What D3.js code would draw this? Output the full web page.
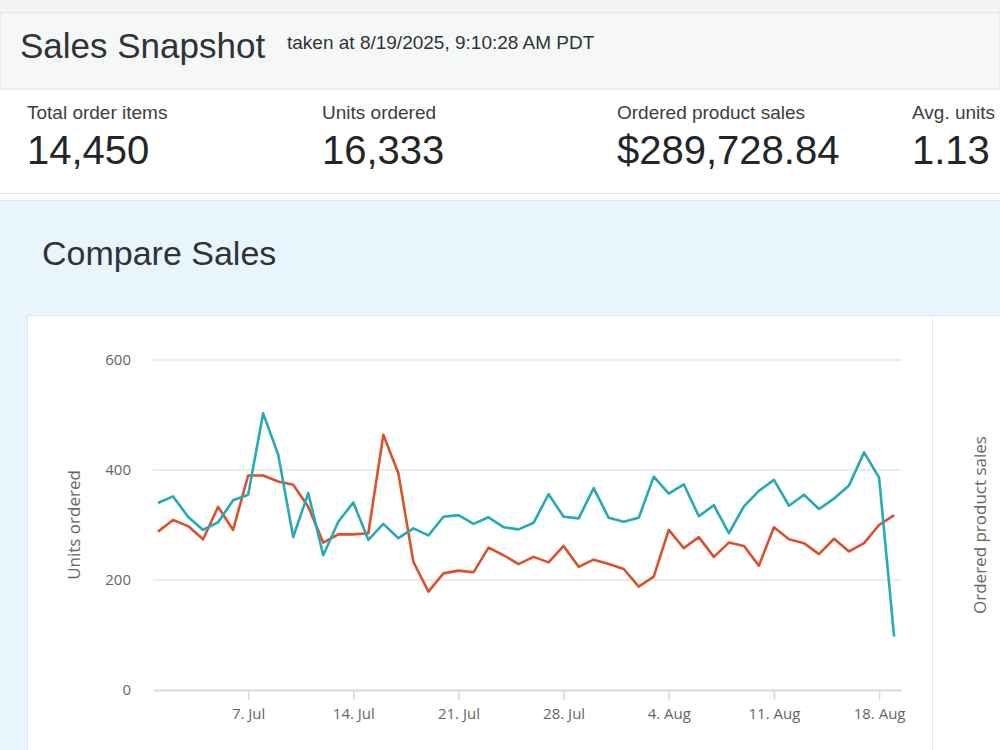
<!DOCTYPE html>
<html>
<head>
<meta charset="utf-8">
<script src="https://cdn.jsdelivr.net/npm/d3@7"></script>
<style>
  body { margin: 0; background: #fff; }
  svg { display: block; }
</style>
</head>
<body>
<script>
// KPI tiles
var kpiLabels = ["Total order items", "Units ordered", "Ordered product sales", "Avg. units"];
var kpiValues = ["14,450", "16,333", "$289,728.84", "1.13"];

// daily series, 1 Jul - 19 Aug 2025
var startDay = new Date(2025, 6, 1);
var endDay   = new Date(2025, 7, 19);
var selectedRange = [340, 352, 315, 291, 305, 345, 355, 503, 428, 278,
                     358, 245, 306, 341, 273, 302, 276, 294, 281, 315,
                     318, 302, 314, 296, 292, 304, 356, 315, 312, 367,
                     313, 306, 313, 388, 357, 374, 316, 336, 285, 334,
                     362, 382, 335, 355, 329, 348, 372, 432, 386, 97];
var lastYear      = [288, 309, 298, 274, 333, 291, 390, 390, 379, 373,
                     333, 268, 283, 283, 285, 464, 394, 233, 179, 212,
                     217, 214, 259, 245, 229, 242, 232, 262, 224, 237,
                     229, 220, 188, 206, 291, 258, 278, 242, 268, 262,
                     226, 296, 274, 267, 247, 275, 252, 267, 300, 318];
var yTicks = [0, 200, 400, 600];
var xTicks = [new Date(2025, 6, 7), new Date(2025, 6, 14), new Date(2025, 6, 21),
              new Date(2025, 6, 28), new Date(2025, 7, 4), new Date(2025, 7, 11),
              new Date(2025, 7, 18)];

var days = d3.timeDay.range(startDay, d3.timeDay.offset(endDay, 1));

const W = 1000, H = 750;
const svg = d3.select("body").append("svg")
  .attr("width", W).attr("height", H);

const sans = "'Liberation Sans', Arial, Helvetica, sans-serif";
const chartFont = "'Open Sans', 'Noto Sans', sans-serif";

// page bands
svg.append("rect").attr("x", 0).attr("y", 0).attr("width", W).attr("height", 10).attr("fill", "#f1f2f2");
svg.append("rect").attr("x", 0).attr("y", 12).attr("width", W).attr("height", 77)
  .attr("fill", "#f6f7f7").attr("stroke", "#dcdfe0");
svg.append("rect").attr("x", 0).attr("y", 90).attr("width", W).attr("height", 103).attr("fill", "#fff");
svg.append("line").attr("x1", 0).attr("x2", W).attr("y1", 193.5).attr("y2", 193.5).attr("stroke", "#e1e3e4");
svg.append("rect").attr("x", 0).attr("y", 200).attr("width", W).attr("height", H - 200).attr("fill", "#e9f5fd");
svg.append("line").attr("x1", 0).attr("x2", W).attr("y1", 200.5).attr("y2", 200.5).attr("stroke", "#dde3e8");

svg.append("text").attr("x", 20).attr("y", 58)
  .style("font-family", sans).style("font-size", "35px").attr("fill", "#2f3337")
  .text("Sales Snapshot");
svg.append("text").attr("x", 287).attr("y", 49)
  .style("font-family", sans).style("font-size", "19px").attr("fill", "#2f3337")
  .text("taken at 8/19/2025, 9:10:28 AM PDT");

// KPI tiles
var kpiX = d3.scalePoint().domain(d3.range(kpiLabels.length)).range([27, 912]);
var kpi = svg.selectAll(".kpi").data(kpiLabels).enter().append("g")
  .attr("class", "kpi")
  .attr("transform", function(d, i) { return "translate(" + kpiX(i) + ",0)"; });
kpi.append("text").attr("y", 119)
  .style("font-family", sans).style("font-size", "19px").attr("fill", "#3a3e42")
  .text(function(d) { return d; });
kpi.append("text").attr("y", 164)
  .style("font-family", sans).style("font-size", "40px").attr("fill", "#232629")
  .text(function(d, i) { return kpiValues[i]; });

svg.append("text").attr("x", 42).attr("y", 265)
  .style("font-family", sans).style("font-size", "34px").attr("fill", "#2f3337")
  .text("Compare Sales");

// chart panel
svg.append("rect").attr("x", 27.5).attr("y", 315.5).attr("width", 980).attr("height", 450)
  .attr("fill", "#fff").attr("stroke", "#e2e7eb");
svg.append("line").attr("x1", 932.5).attr("x2", 932.5).attr("y1", 316).attr("y2", H)
  .attr("stroke", "#e6e9ec");

// scales
var x = d3.scaleTime()
  .domain([d3.timeHour.offset(startDay, -8), d3.timeHour.offset(endDay, 11)])
  .range([153, 901]);
var y = d3.scaleLinear().domain([0, 600]).range([690, 360]);

// grid
svg.append("g").selectAll("line").data(yTicks.filter(function(t) { return t > 0; })).enter()
  .append("line")
  .attr("x1", x.range()[0]).attr("x2", x.range()[1])
  .attr("y1", function(d) { return y(d); }).attr("y2", function(d) { return y(d); })
  .attr("stroke", "#e6e6e6").attr("stroke-width", 1.5);

// y axis labels
var yAxis = svg.append("g").attr("transform", "translate(" + (x.range()[0] - 22) + ",0)")
  .call(d3.axisLeft(y).tickValues(yTicks).tickSize(0).tickPadding(0));
yAxis.select(".domain").remove();
yAxis.selectAll("text")
  .style("font-family", chartFont).style("font-size", "15px").attr("fill", "#666");

// x axis
var xAxis = svg.append("g").attr("transform", "translate(0," + y(0) + ")")
  .call(d3.axisBottom(x).tickValues(xTicks).tickSizeInner(10).tickSizeOuter(0).tickPadding(8)
    .tickFormat(d3.timeFormat("%-d. %b")));
xAxis.select(".domain").attr("stroke", "#d5d9e2").attr("stroke-width", 2);
xAxis.selectAll(".tick line").attr("stroke", "#d5d9e2").attr("stroke-width", 1.5);
xAxis.selectAll("text")
  .style("font-family", chartFont).style("font-size", "15px").attr("fill", "#666");

// axis titles
svg.append("text")
  .attr("transform", "translate(80," + y(300) + ") rotate(-90)")
  .attr("text-anchor", "middle")
  .style("font-family", chartFont).style("font-size", "17px").attr("fill", "#666")
  .text("Units ordered");
svg.append("text")
  .attr("transform", "translate(986," + y(300) + ") rotate(-90)")
  .attr("text-anchor", "middle")
  .style("font-family", chartFont).style("font-size", "17px").attr("fill", "#666")
  .text("Ordered product sales");

// lines
var line = d3.line()
  .x(function(d, i) { return x(days[i]); })
  .y(function(d) { return y(d); });

svg.append("path").datum(lastYear)
  .attr("fill", "none").attr("stroke", "#d9522b").attr("stroke-width", 2.6)
  .attr("stroke-linejoin", "round").attr("d", line);
svg.append("path").datum(selectedRange)
  .attr("fill", "none").attr("stroke", "#26aab8").attr("stroke-width", 2.6)
  .attr("stroke-linejoin", "round").attr("d", line);
</script>
</body>
</html>
